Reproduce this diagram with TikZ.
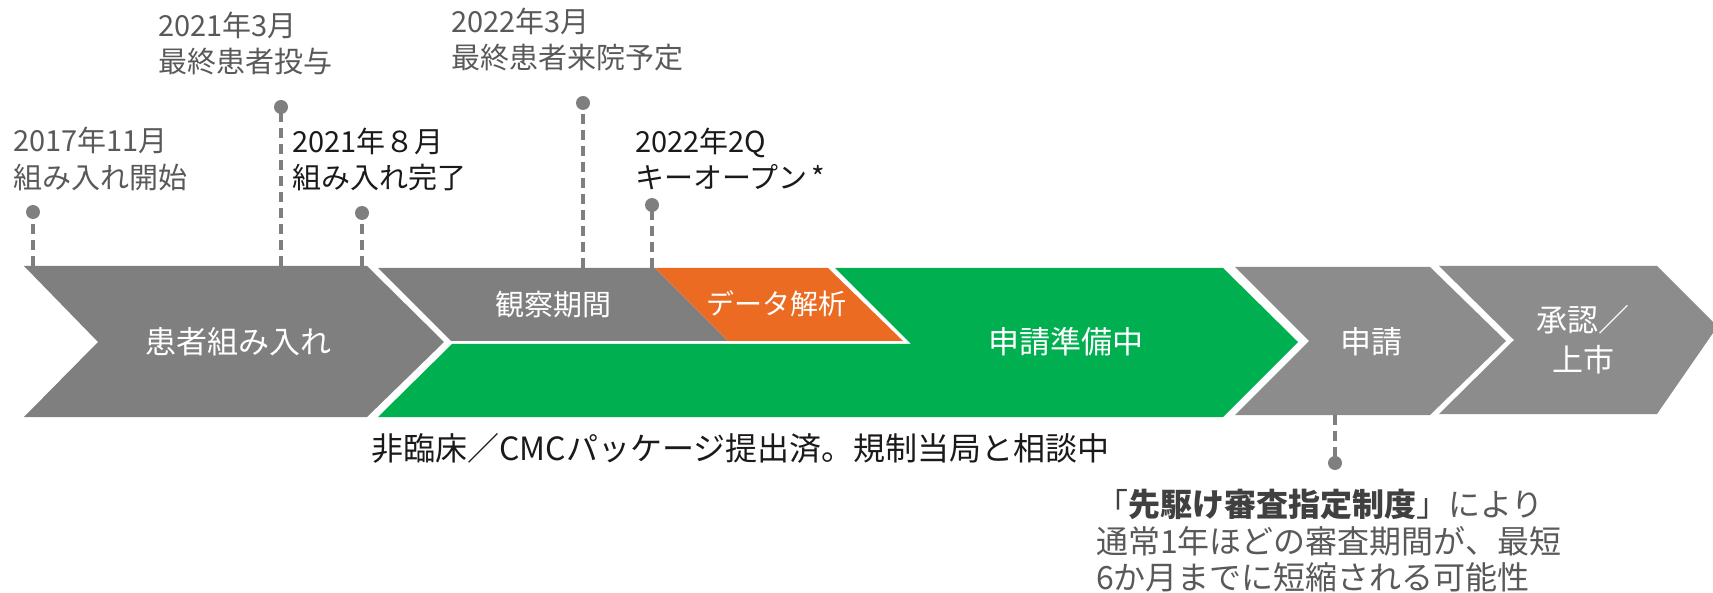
\documentclass[tikz,border=0pt]{standalone}
\usepackage{fontspec}
\setmainfont{Noto Sans CJK JP}
\definecolor{cgray}{HTML}{7F7F7F}
\definecolor{cgrayl}{HTML}{8C8C8C}
\definecolor{corange}{HTML}{EB6B22}
\definecolor{cgreen}{HTML}{00B050}
\definecolor{tgray}{HTML}{595959}
\definecolor{tdark}{HTML}{1A1A1A}
\definecolor{tbold}{HTML}{404040}
\begin{document}
\begin{tikzpicture}[x=1pt,y=-1pt,
  lbl/.style={anchor=base west, inner sep=0pt, font=\fontsize{29}{36}\selectfont},
  note/.style={anchor=base west, inner sep=0pt, font=\fontsize{32}{38}\selectfont},
  inlbl/.style={inner sep=0pt, text=white, align=center, font=\fontsize{31}{40}\selectfont},
  dot/.style={circle, fill=cgray, minimum size=14pt, inner sep=0pt},
  dashline/.style={draw=cgray, line width=3.5pt, dash pattern=on 10pt off 6pt}]
\useasboundingbox (0,0) rectangle (1713,593);
% chevrons
\fill[cgray] (24,266) -- (367,266) -- (444,342) -- (367,417) -- (24,417) -- (98,342) -- cycle;
\fill[cgray] (378,268) -- (655,268) -- (728,341) -- (451,341) -- cycle;
\fill[corange] (655,268) -- (828,268) -- (903,341) -- (728,341) -- cycle;
\fill[cgreen] (378,417) -- (452,344) -- (911,344) -- (835,268) -- (1223,268) -- (1298,342) -- (1223,417) -- cycle;
\fill[cgrayl] (1235,267) -- (1430,267) -- (1506,341) -- (1430,415) -- (1235,415) -- (1309,341) -- cycle;
\fill[cgrayl] (1439,266) -- (1657,266) -- (1713,322) -- (1713,333) -- (1657,414) -- (1439,414) -- (1514,340) -- cycle;
% labels inside shapes
\node[inlbl] (s1) at (238,342) {患者組み入れ};
\node[inlbl, font=\fontsize{29}{36}\selectfont] (s2) at (553,305) {観察期間};
\node[inlbl, font=\fontsize{28}{36}\selectfont] (s3) at (776,304) {データ解析};
\node[inlbl] (s4) at (1066,342) {申請準備中};
\node[inlbl] (s5) at (1371,342) {申請};
\node[inlbl] (s6) at (1583,340) {承認／\\上市};
% milestone points
\coordinate (t1) at (33,266);
\coordinate (t2) at (281,266);
\coordinate (t3) at (362,266);
\coordinate (t4) at (583,268);
\coordinate (t5) at (652,268);
\coordinate (t6) at (1335,415);
\draw[dashline] (t1) -- (33,212);
\draw[dashline] (t2) -- (281,107);
\draw[dashline] (t3) -- (362,213);
\draw[dashline] (t4) -- (583,103);
\draw[dashline] (t5) -- (652,205);
\draw[dashline] (t6) -- (1335,463);
\node[dot] (d1) at (33,212) {};
\node[dot] (d2) at (281,107) {};
\node[dot] (d3) at (362,213) {};
\node[dot] (d4) at (583,103) {};
\node[dot] (d5) at (652,205) {};
\node[dot] (d6) at (1335,463) {};
% milestone labels
\node[lbl, text=tgray] (a1) at (13,152) {2017年11月};
\node[lbl, text=tgray] (b1) at (13,189) {組み入れ開始};
\node[lbl, text=tgray] (a2) at (158,37) {2021年3月};
\node[lbl, text=tgray] (b2) at (158,73) {最終患者投与};
\node[lbl, text=tdark] (a3) at (292,153) {2021年８月};
\node[lbl, text=tdark] (b3) at (292,189) {組み入れ完了};
\node[lbl, text=tgray] (a4) at (451,33) {2022年3月};
\node[lbl, text=tgray] (b4) at (451,69) {最終患者来院予定};
\node[lbl, text=tdark] (a5) at (635,153) {2022年2Q};
\node[lbl, text=tdark] (b5) at (635,189) {キーオープン\hspace{4pt}*};
% bottom texts
\node[note, text=tdark] (n1) at (371,460) {非臨床／CMCパッケージ提出済。規制当局と相談中};
\node[note, text=tgray] (n2) at (1096,516) {{\color{tbold}「\textbf{先駆け審査指定制度}」}により};
\node[note, text=tgray] (n3) at (1096,553) {通常1年ほどの審査期間が、最短};
\node[note, text=tgray] (n4) at (1096,589) {6か月までに短縮される可能性};
\end{tikzpicture}
\end{document}
